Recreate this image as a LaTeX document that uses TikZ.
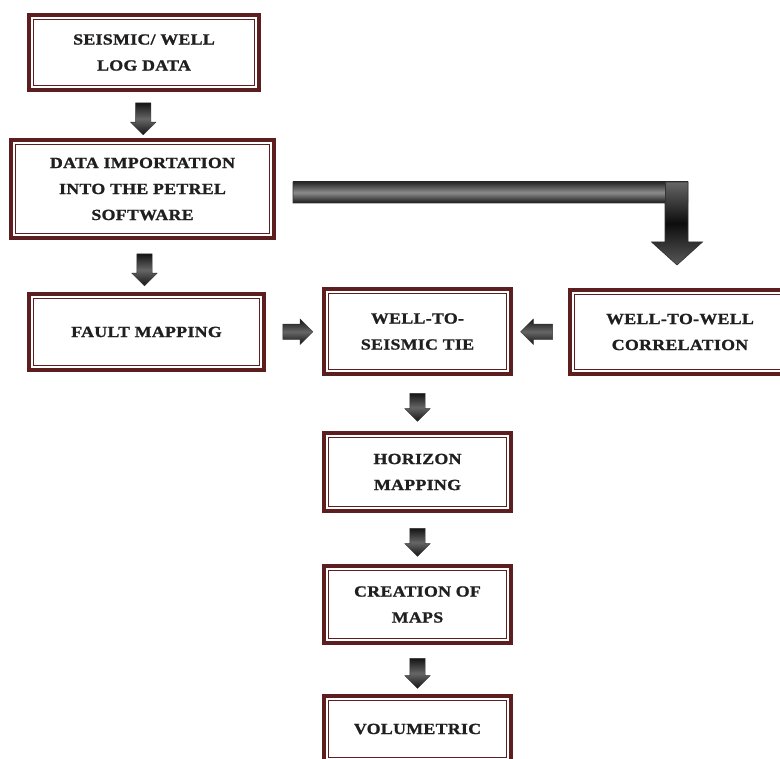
\documentclass[tikz,border=0pt]{standalone}
\usepackage{fontspec}
\newfontfamily\boxfont{Liberation Serif}[UprightFont=* Bold, FakeStretch=1.15, LetterSpace=2, FakeBold=1.2]
\usetikzlibrary{shapes.arrows,calc}
\definecolor{boxred}{RGB}{92,30,30}
\begin{document}
\begin{tikzpicture}[x=1pt,y=1pt,
  box/.style={draw=boxred, line width=4pt, outer sep=0pt, inner sep=0pt, fill=white,
    align=center, font=\boxfont\fontsize{15.5}{26}\selectfont, text=black!88},
  innerline/.style={draw=boxred, line width=1.3pt},
  barrow/.style={single arrow, single arrow head extend=5pt, inner sep=0pt, inner ysep=7.5pt,
    minimum height=32pt, top color=black!92, bottom color=black!92, middle color=black!60,
    draw=black!80, line width=0.4pt}]
\useasboundingbox (0,0) rectangle (780,-759);
\clip (0,0) rectangle (780,-759);
\fill[white] (0,0) rectangle (780,-759);

\node[box, minimum width=230pt, minimum height=75pt] (b1) at (144,-52.5) {SEISMIC/ WELL\\LOG DATA};
\node[box, minimum width=263pt, minimum height=98pt] (b2) at (142.5,-189) {DATA IMPORTATION\\INTO THE PETREL\\SOFTWARE};
\node[box, minimum width=235pt, minimum height=76pt] (b3) at (146.5,-332) {FAULT MAPPING};
\node[box, minimum width=187pt, minimum height=85pt] (b4) at (417.5,-331.5) {WELL-TO-\\SEISMIC TIE};
\node[box, minimum width=220pt, minimum height=84pt] (b5) at (680,-332) {WELL-TO-WELL\\CORRELATION};
\node[box, minimum width=187pt, minimum height=78pt] (b6) at (417.5,-472) {HORIZON\\MAPPING};
\node[box, minimum width=187pt, minimum height=77pt] (b7) at (417.5,-604.5) {CREATION OF\\MAPS};
\node[box, minimum width=187pt, minimum height=66pt] (b8) at (417.5,-729) {VOLUMETRIC};

\foreach \n in {b1,b2,b3,b4,b5,b6,b7,b8}
  \draw[innerline] ([shift={(4.3,-4.3)}]\n.north west) rectangle ([shift={(-4.3,4.3)}]\n.south east);

\node[barrow, rotate=-90] (a1) at ($(b1.south)!0.5!(b2.north)$) {};
\node[barrow, rotate=-90] (a2) at ($(b2.south)!0.5!(b3.north)$) {};
\node[barrow, minimum height=30pt] (a3) at ($(b3.east)!0.5!(b4.west)$) {};
\node[barrow, rotate=180] (a4) at ($(b5.west)!0.5!(b4.east)$) {};
\node[barrow, rotate=-90, minimum height=28pt] (a5) at ($(b4.south)!0.5!(b6.north)$) {};
\node[barrow, rotate=-90, minimum height=28pt] (a6) at ($(b6.south)!0.5!(b7.north)$) {};
\node[barrow, rotate=-90, minimum height=30pt] (a7) at ($(b7.south)!0.5!(b8.north)$) {};

% bent arrow from data importation to well-to-well correlation
\coordinate (bs) at ([xshift=19pt,yshift=-3.5pt]b2.east);
\coordinate (bt) at ([xshift=-3pt,yshift=25pt]b5.north);
\coordinate (bc) at (bt |- bs);
\shade[top color=black!85, bottom color=black!90, middle color=black!45]
  ($(bs)+(0,10.5)$) rectangle ($(bc)+(11,-10.5)$);
\shade[top color=black!60, bottom color=black!65, middle color=black!95]
  ($(bc)+(11,10.5)$) -- ($(bt)+(11,23)$) -- ($(bt)+(25.5,23)$) -- (bt) -- ($(bt)+(-25.5,23)$)
  -- ($(bt)+(-12,23)$) -- ($(bc)+(-12,10.5)$) -- cycle;
\draw[black!80, line width=0.6pt, line join=miter]
  ($(bs)+(0,10.5)$) -- ($(bc)+(11,10.5)$) -- ($(bt)+(11,23)$) -- ($(bt)+(25.5,23)$) -- (bt)
  -- ($(bt)+(-25.5,23)$) -- ($(bt)+(-12,23)$) -- ($(bc)+(-12,-10.5)$) -- ($(bs)+(0,-10.5)$) -- cycle;
\draw[black!80, line width=0.6pt] ($(bc)+(-12,10.5)$) -- ($(bc)+(-12,-10.5)$);
\end{tikzpicture}
\end{document}
